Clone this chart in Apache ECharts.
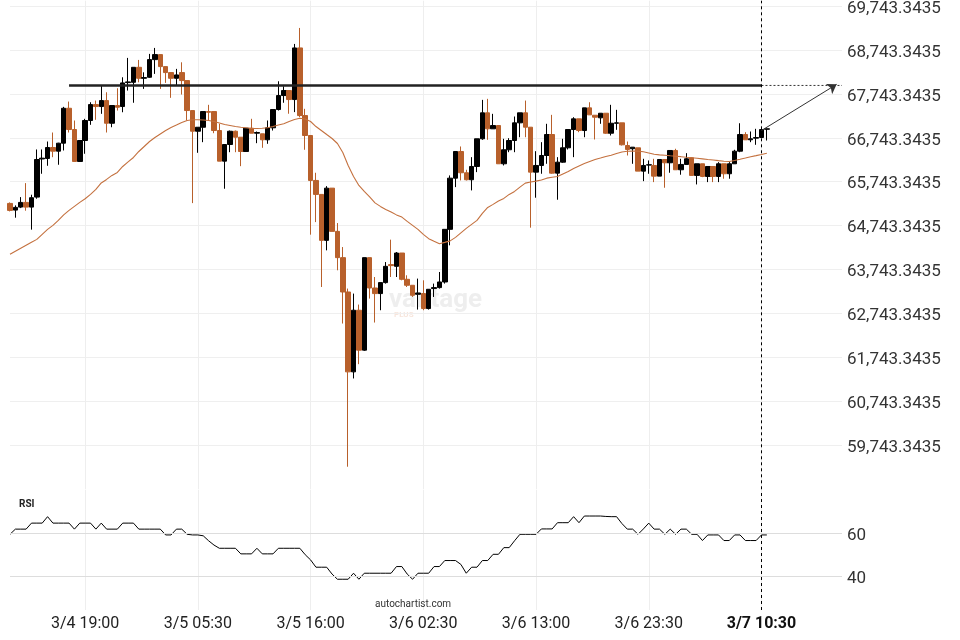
<!DOCTYPE html>
<html><head><meta charset="utf-8">
<script src="https://cdn.jsdelivr.net/npm/echarts@6/dist/echarts.min.js"></script>
<style>html,body{margin:0;padding:0;background:#fff}#c{width:960px;height:640px}</style>
</head><body><div id="c"></div>
<script>
// 30-minute bars from 3/4 12:00 (index 0); one bar missing overnight on 3/7, so 3/7 10:30 is index 140
const categories = [];
for (let k = 0; k < 156; k++) {
  const gap = k >= 120 ? 1 : 0;
  const d = new Date(Date.UTC(2024, 2, 4, 12, 0) + (k + gap) * 1800000);
  categories.push((d.getUTCMonth() + 1) + '/' + d.getUTCDate() + ' ' +
    String(d.getUTCHours()).padStart(2, '0') + ':' + String(d.getUTCMinutes()).padStart(2, '0'));
}
const tickLabels = ['3/4 19:00','3/5 05:30','3/5 16:00','3/6 02:30','3/6 13:00','3/6 23:30','3/7 10:30'];
const currentLabel = '3/7 10:30';

const opens = [65250,65098,65166,65273,65166,65394,66262,66273,66523,66439,
66621,67416,66932,66205,66682,67137,67500,67455,67591,67075,
67478,67455,68000,68007,68348,68098,68121,68523,68637,68364,
68228,68098,68228,68046,67364,66893,66984,67341,67341,66909,
66212,66591,66893,66757,66432,66962,66848,66835,66698,66971,
67387,67705,67819,67614,68789,67250,66796,65773,65455,64409,
65598,64614,64016,63234,61416,62819,61910,64016,63325,63198,
63448,63857,63818,64121,63523,63387,63182,63198,62857,63312,
63334,63462,64660,65825,66432,65948,65789,66091,66721,67312,
66948,67023,66152,66471,66682,67084,67312,66985,65962,66114,
66341,66818,65939,66189,66516,66932,67175,66909,67425,67257,
67198,67303,66848,67075,67084,66568,66494,66516,65985,66123,
66114,65871,66250,66175,66455,66016,66137,66289,65887,66152,
65864,66091,65864,66152,65925,66152,66439,66818,66698,66735,
66750,66939];
const closes = [65091,65160,65273,65166,65380,66250,66280,66523,66439,66621,
67416,66932,66205,66682,67137,67500,67455,67591,67075,67478,
67439,67993,68016,68348,68098,68114,68523,68637,68364,68228,
68098,68175,68046,67364,66893,66984,67341,67325,66909,66212,
66591,66893,66757,66432,66962,66848,66864,66698,66971,67387,
67705,67819,67614,68789,67250,66796,65773,65455,64409,65598,
64614,64016,63234,61416,62819,61910,64016,63325,63198,63448,
63818,63834,64121,63523,63387,63159,63212,62857,63296,63334,
63462,64660,65825,66432,65948,65789,66091,66721,67312,66948,
67023,66152,66471,66682,67084,67312,66985,65962,66114,66341,
66818,65939,66189,66516,66932,67175,66909,67425,67266,67212,
67303,66848,67075,67084,66584,66478,66530,65985,66114,66130,
65871,66250,66175,66455,66016,66137,66266,65887,66152,65864,
66091,65864,66152,65925,66152,66439,66818,66698,66721,66750,
66932,66948];
const highs = [65273,65205,65394,65712,65448,66478,66478,66659,66864,66630,
67448,67568,67137,66682,67175,67553,67591,67932,67780,67478,
67871,68121,68562,68348,68516,68234,68653,68789,68637,68364,
68228,68312,68462,68046,67364,66984,67341,67494,67341,67062,
66591,66909,66909,66757,66962,67176,66887,66835,67137,67387,
68030,67916,67819,68880,69244,67403,66796,65948,65455,65644,
65598,64803,64257,63312,63198,62948,64016,64016,63575,63448,
63916,64425,64144,64121,63614,63387,63539,63500,63296,63425,
63689,64660,65887,66432,66546,66016,66303,66721,67607,67630,
67289,67023,66721,66735,67228,67312,67591,66985,66439,66644,
67062,67266,66303,66721,66932,67212,67175,67425,67553,67257,
67303,67303,67494,67380,67084,66659,66530,66516,66266,66228,
66266,66250,66250,66455,66494,66266,66394,66303,66152,66152,
66091,66091,66189,66152,66189,66471,67075,66871,66887,66948,
66948,66948];
const lows = [65068,64925,65144,65084,64653,65357,65925,66107,66302,66130,
66455,66864,66205,66194,66380,67039,67153,67289,66864,66984,
67364,67325,67819,67541,68007,67857,68107,68198,67857,67994,
67653,67932,67728,67137,65257,66402,66644,67137,66848,66212,
65584,66416,66416,66098,66432,66848,66621,66516,66607,66909,
67364,67541,67291,67328,67212,66471,64539,64825,63348,64182,
64614,63728,62516,59257,61266,61591,61894,63084,62539,62819,
63425,63575,63575,63500,63348,63121,62834,62819,62834,63121,
63312,63425,64296,65621,65773,65773,65546,65962,66698,66698,
66948,66152,66114,66416,66416,66757,66757,64698,65380,65925,
66152,65925,65334,66175,66478,66303,66871,66757,67266,66705,
67062,66834,66796,66925,66568,66341,66152,65985,65757,65925,
65735,65871,65607,65948,66016,65903,66137,65887,65682,65848,
65735,65735,65735,65812,65812,66152,66416,66698,66644,66584,
66750,66682];
const maValues = [64091,64160,64228,64296,64364,64432,64546,64659,64750,64864,
64989,65091,65182,65273,65357,65455,65568,65716,65796,65887,
65955,66091,66194,66296,66432,66546,66659,66750,66830,66909,
66978,67034,67091,67137,67153,67153,67148,67137,67114,67080,
67046,67023,67000,66984,66971,66955,66955,66962,66971,67000,
67034,67064,67114,67159,67189,67171,67114,67000,66909,66818,
66728,66614,66409,66114,65864,65659,65523,65398,65262,65182,
65114,65057,64989,64939,64841,64750,64659,64546,64448,64387,
64334,64364,64398,64478,64580,64682,64773,64864,65023,65159,
65228,65307,65364,65455,65523,65621,65712,65739,65757,65784,
65825,65846,65864,65921,65978,66046,66103,66159,66205,66250,
66284,66319,66346,66387,66421,66437,66441,66441,66425,66398,
66368,66355,66346,66334,66325,66314,66300,66289,66278,66264,
66250,66237,66223,66210,66205,66228,66255,66284,66314,66337,
66362,66391];
const rsiValues = [59.5,61.9,61.9,61.9,64.7,64.7,64.7,67.7,64.7,64.7,
64.7,64.7,61.9,64.7,64.7,64.7,61.9,64.7,61.9,61.9,
61.9,64.7,64.7,64.7,61.9,61.9,61.9,61.9,61.9,59.2,
59.2,61.9,61.9,59.5,59.2,59.2,58.8,56.5,54.5,53.0,
53.0,53.0,53.0,50.4,50.4,50.4,53.0,50.4,50.4,50.4,
53.0,53.0,53.0,53.0,53.0,50.0,47.6,44.2,44.2,44.2,
41.0,38.6,38.6,38.6,41.4,38.6,41.4,41.4,41.4,41.4,
41.4,41.4,44.5,44.5,41.0,38.6,41.4,41.4,41.4,44.5,
44.5,47.3,47.3,47.3,45.5,41.4,44.2,44.2,47.3,47.3,
50.2,50.2,53.3,53.3,56.5,59.5,59.5,59.5,59.5,62.0,
62.0,62.0,64.9,64.9,64.9,67.7,64.9,68.0,68.0,68.0,
68.0,67.8,67.7,67.7,64.5,61.9,61.9,59.5,62.0,64.7,
61.9,61.9,59.5,61.9,59.5,61.9,61.9,59.5,59.5,56.6,
59.2,59.2,59.2,56.6,56.6,59.2,59.2,56.6,56.6,56.6,
59.2,59.2];
const rsiLevels = [60, 40];

// pattern: resistance level, its start/end bars, forecast arrow
const resistanceLevel = 67935;
const resistanceStart = 11, resistanceEnd = 140, forecastEnd = 155;
const arrowFrom = 66909, arrowTo = 67960;
const priceLabelOffset = 743.3435;

const candles = opens.map((o, i) => [o, closes[i], lows[i], highs[i]]);
const labelIdx = tickLabels.map(t => categories.indexOf(t));
const showTick = (idx) => labelIdx.indexOf(idx) >= 0;
const upColor = '#000000', downColor = '#b8602b';

const chart = echarts.init(document.getElementById('c'));
const FONT = 'Roboto';
const shifted = { fontSize: 17, color: '#333', fontFamily: FONT, padding: [5, 0, 0, 0] };
chart.setOption({
  animation: false,
  backgroundColor: '#ffffff',
  textStyle: { fontFamily: FONT },
  grid: [
    { left: 10, top: 0, width: 832, height: 489.3 },
    { left: 10, top: 490, width: 832, height: 120 }
  ],
  xAxis: [
    { type: 'category', gridIndex: 0, data: categories, boundaryGap: false,
      axisLine: { show: false }, axisTick: { show: false }, axisLabel: { show: false },
      splitLine: { show: true, interval: (i) => showTick(i), lineStyle: { color: '#eeeeee', width: 1 } } },
    { type: 'category', gridIndex: 1, data: categories, boundaryGap: false,
      axisLine: { show: false }, axisTick: { show: false },
      axisLabel: { interval: (i) => showTick(i), fontSize: 16, color: '#222', margin: 6, fontFamily: FONT,
        formatter: (v) => v === currentLabel ? '{b|' + v + '}' : v,
        rich: { b: { fontWeight: 'bold', fontSize: 16, color: '#111', fontFamily: FONT } } },
      splitLine: { show: true, interval: (i) => showTick(i), lineStyle: { color: '#eeeeee', width: 1 } } }
  ],
  yAxis: [
    { type: 'value', gridIndex: 0, min: 58743.3435, max: 69863.79, show: false, splitLine: { show: false } },
    { type: 'value', gridIndex: 0, position: 'right', min: 58000, max: 69120.45, interval: 1000,
      axisLine: { show: false }, axisTick: { show: false },
      axisLabel: { fontSize: 17, color: '#333', margin: 5, fontFamily: FONT, showMinLabel: false, showMaxLabel: false,
        formatter: (v) => '{p|' + (v + priceLabelOffset).toLocaleString('en-US', { minimumFractionDigits: 4, maximumFractionDigits: 4 }) + '}',
        rich: { p: shifted } },
      splitLine: { show: true, showMinLine: false, showMaxLine: false, lineStyle: { color: '#efefef', width: 1 } } },
    { type: 'value', gridIndex: 1, min: 24.3, max: 80.1, show: false, splitLine: { show: false } }
  ],
  series: [
    { type: 'candlestick', xAxisIndex: 0, yAxisIndex: 0, data: candles, barWidth: 5,
      itemStyle: { color: upColor, color0: downColor, borderColor: upColor, borderColor0: downColor, borderWidth: 1 },
      markLine: { silent: true, symbol: ['none', 'none'], animation: false,
        data: [ { xAxis: currentLabel, lineStyle: { color: '#000', type: [3, 3], width: 1 }, label: { show: false } } ] } },
    { type: 'line', xAxisIndex: 0, yAxisIndex: 0, data: maValues, showSymbol: false, silent: true,
      lineStyle: { color: '#c4713f', width: 1.1 } },
    { type: 'line', xAxisIndex: 0, yAxisIndex: 0, showSymbol: false, silent: true,
      data: [[resistanceStart, resistanceLevel], [resistanceEnd, resistanceLevel]],
      lineStyle: { color: '#222', width: 2.5 } },
    { type: 'line', xAxisIndex: 0, yAxisIndex: 0, showSymbol: false, silent: true,
      data: [[resistanceEnd, resistanceLevel], [forecastEnd, resistanceLevel]],
      lineStyle: { color: '#333', width: 1, type: [2, 2] },
      markLine: { silent: true, symbol: ['none', 'arrow'], symbolSize: 9, animation: false,
        lineStyle: { color: '#333', width: 1, type: 'solid' }, label: { show: false },
        data: [[ { coord: [resistanceEnd, arrowFrom] }, { coord: [154, arrowTo] } ]] } },
    { type: 'line', xAxisIndex: 1, yAxisIndex: 2, data: rsiValues, showSymbol: false, silent: true,
      lineStyle: { color: '#000', width: 1 },
      markLine: { silent: true, symbol: ['none', 'none'], animation: false,
        data: [
          ...rsiLevels.map(v => ({ yAxis: v, lineStyle: { color: '#dddddd', type: 'solid', width: 1 },
            label: { show: true, position: 'end', formatter: '{p|' + v + '}', distance: 5, rich: { p: shifted } } })),
          { xAxis: currentLabel, lineStyle: { color: '#000', type: [3, 3], width: 1 }, label: { show: false } }
        ] } }
  ],
  graphic: [
    { type: 'text', left: 19, top: 499, z: 10,
      style: { text: 'RSI', fontSize: 10, fontWeight: 'bold', fill: '#222', fontFamily: FONT } },
    { type: 'text', left: 375, top: 599, z: 10,
      style: { text: 'autochartist.com', fontSize: 10, fill: '#333', fontFamily: FONT } },
    { type: 'text', left: 389, top: 287, z: -1,
      style: { text: 'vantage', fontSize: 26, fontWeight: 'bold', fill: 'rgba(200,200,200,0.3)', fontFamily: FONT } },
    { type: 'text', left: 394, top: 311, z: -1,
      style: { text: 'PLUS', fontSize: 8, fontWeight: 'bold', fill: 'rgba(230,170,140,0.3)', fontFamily: FONT } }
  ]
});
</script></body></html>
